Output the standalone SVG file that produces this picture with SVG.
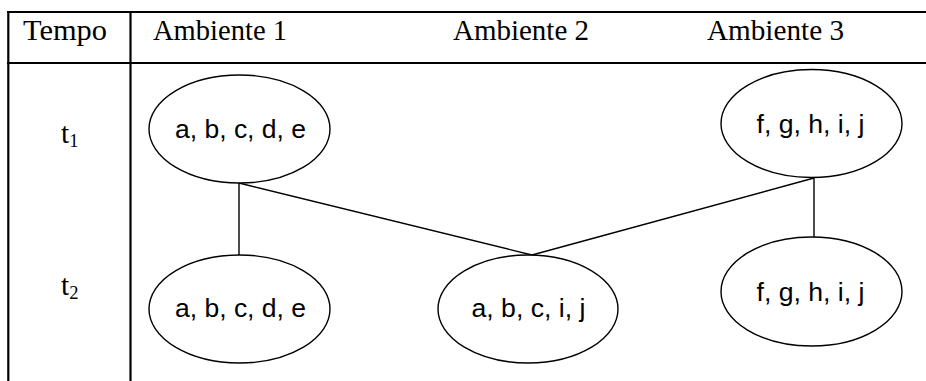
<svg xmlns="http://www.w3.org/2000/svg" width="926" height="381" viewBox="0 0 926 381">
<style>
.grid{stroke:#000;stroke-width:2.2;fill:none}
.hd{font-family:"Liberation Serif","Times New Roman",serif;font-size:29.5px;fill:#000}
.sub{font-size:18.5px}
.node ellipse{fill:#fff;stroke:#000;stroke-width:1.4}
.node text{font-family:"Liberation Sans",Arial,sans-serif;font-size:25px;fill:#000}
.conn line{stroke:#000;stroke-width:1.4}
</style>
<rect width="926" height="381" fill="#fff"/>
<g id="table">
<line class="grid" x1="7" y1="12" x2="926" y2="12"/>
<line class="grid" x1="7" y1="63" x2="926" y2="63"/>
<line class="grid" x1="8.3" y1="11" x2="8.3" y2="381"/>
<line class="grid" x1="130.5" y1="11" x2="130.5" y2="381"/>
<text class="hd" x="23" y="40" textLength="84" lengthAdjust="spacingAndGlyphs">Tempo</text>
<text class="hd" x="153" y="40" textLength="134" lengthAdjust="spacingAndGlyphs">Ambiente 1</text>
<text class="hd" x="453" y="40" textLength="136" lengthAdjust="spacingAndGlyphs">Ambiente 2</text>
<text class="hd" x="707" y="40" textLength="137" lengthAdjust="spacingAndGlyphs">Ambiente 3</text>
<text class="hd" x="61" y="143">t<tspan class="sub" dy="4">1</tspan></text>
<text class="hd" x="61" y="295">t<tspan class="sub" dy="4">2</tspan></text>
</g>
<g id="connectors" class="conn">
<line x1="239" y1="183" x2="239" y2="255"/>
<line x1="239" y1="183" x2="532" y2="255"/>
<line x1="814" y1="178" x2="532" y2="255"/>
<line x1="814" y1="178" x2="814" y2="237"/>
</g>
<g id="a1t1" class="node">
<ellipse cx="239.5" cy="129" rx="90.5" ry="54"/>
<text x="175" y="138" textLength="131" lengthAdjust="spacingAndGlyphs">a, b, c, d, e</text>
</g>
<g id="a1t2" class="node">
<ellipse cx="239.5" cy="309" rx="90.5" ry="54"/>
<text x="175" y="317" textLength="131" lengthAdjust="spacingAndGlyphs">a, b, c, d, e</text>
</g>
<g id="a2t2" class="node">
<ellipse cx="528" cy="309" rx="90" ry="54"/>
<text x="471.5" y="317" textLength="114" lengthAdjust="spacingAndGlyphs">a, b, c, i, j</text>
</g>
<g id="a3t1" class="node">
<ellipse cx="811.5" cy="123.5" rx="90.5" ry="54"/>
<text x="756.5" y="133" textLength="108" lengthAdjust="spacingAndGlyphs">f, g, h, i, j</text>
</g>
<g id="a3t2" class="node">
<ellipse cx="811.5" cy="291.5" rx="90.5" ry="54.5"/>
<text x="756.5" y="300.5" textLength="108" lengthAdjust="spacingAndGlyphs">f, g, h, i, j</text>
</g>
</svg>
